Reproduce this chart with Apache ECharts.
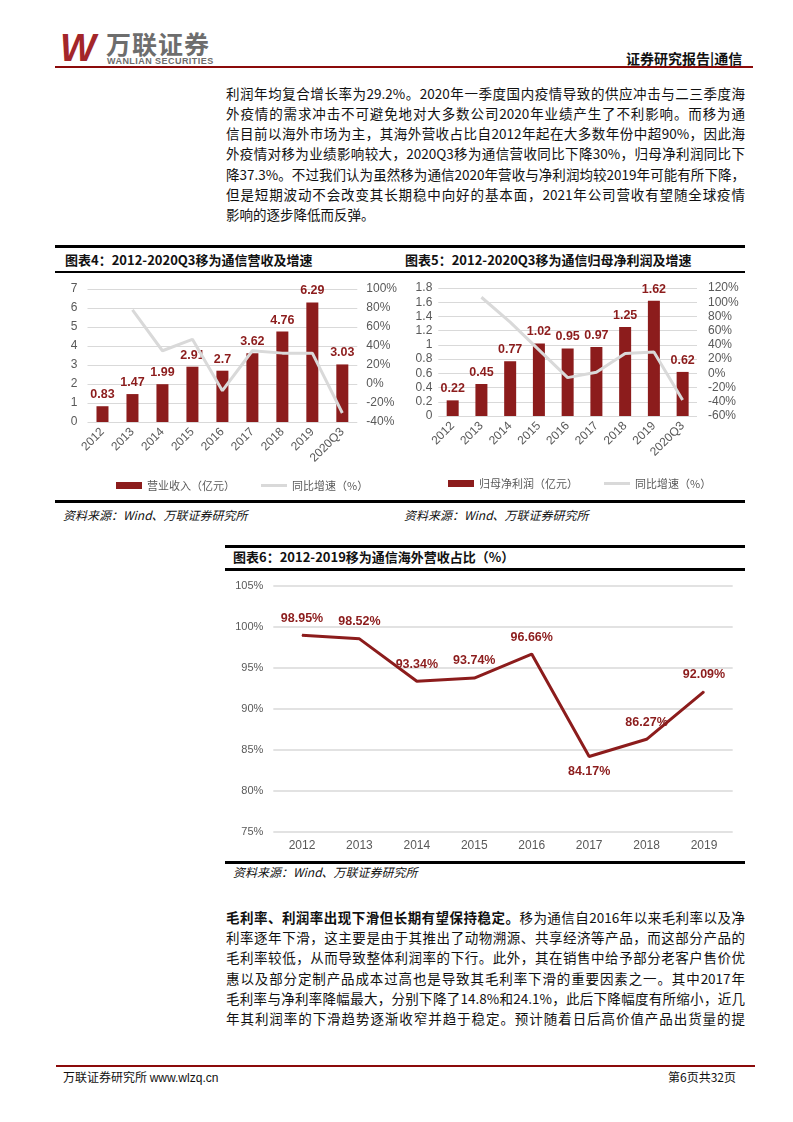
<!DOCTYPE html>
<html><head><meta charset="utf-8">
<script src="https://cdn.jsdelivr.net/npm/echarts@6/dist/echarts.min.js"></script>
<style>
body{margin:0;background:#fff;}
#page{position:relative;width:793px;height:1122px;overflow:hidden;font-family:"Noto Sans CJK SC",sans-serif;color:#111;}
.abs{position:absolute;white-space:nowrap;}
.ln{position:absolute;left:226px;width:519px;font-size:13.5px;line-height:20px;height:20px;text-align:justify;text-align-last:justify;}
.ln.last{text-align-last:left;}
.rule{position:absolute;background:#000;}
.red{background:#8b0a0a;}
.ttl{position:absolute;font-size:13px;font-weight:bold;line-height:16px;white-space:nowrap;color:#111;}
.src{position:absolute;font-size:12px;font-style:italic;line-height:14px;white-space:nowrap;color:#111;}
.chart{position:absolute;}
</style></head>
<body><div id="page">
<!-- header -->
<div class="abs" style="left:60px;top:28px;font-family:'Liberation Sans',sans-serif;font-size:38px;font-weight:bold;font-style:italic;color:#a3262a;line-height:40px;">W</div>
<div class="abs" style="left:106px;top:29px;font-size:25px;font-weight:bold;color:#6d6d6d;line-height:28px;letter-spacing:1px;">万联证券</div>
<div class="abs" style="left:107px;top:56px;font-family:'Liberation Sans',sans-serif;font-size:9px;font-weight:bold;color:#6d6d6d;line-height:10px;letter-spacing:0.45px;">WANLIAN SECURITIES</div>
<div class="abs" style="left:626px;top:49px;font-size:14px;font-weight:bold;line-height:18px;color:#111;">证券研究报告|通信</div>
<div class="rule red" style="left:55px;top:66px;width:698px;height:2px;"></div>

<!-- charts 4 & 5 frame -->
<div class="rule" style="left:55px;top:245px;width:690px;height:3px;"></div>
<div class="ttl" style="left:65px;top:252px;">图表4：2012-2020Q3移为通信营收及增速</div>
<div class="ttl" style="left:405px;top:252px;">图表5：2012-2020Q3移为通信归母净利润及增速</div>
<div class="rule" style="left:55px;top:270.5px;width:690px;height:2.5px;"></div>
<div id="c4" class="chart" style="left:55px;top:275px;width:345px;height:224px;"></div>
<div id="c5" class="chart" style="left:400px;top:275px;width:345px;height:224px;"></div>
<div class="rule" style="left:55px;top:499.5px;width:690px;height:3px;"></div>
<div class="src" style="left:63px;top:508px;">资料来源：Wind、万联证券研究所</div>
<div class="src" style="left:404px;top:508px;">资料来源：Wind、万联证券研究所</div>

<!-- chart 6 frame -->
<div class="rule" style="left:225px;top:544.5px;width:520px;height:3px;"></div>
<div class="ttl" style="left:233px;top:549px;">图表6：2012-2019移为通信海外营收占比（%）</div>
<div class="rule" style="left:225px;top:568px;width:520px;height:2.5px;"></div>
<div id="c6" class="chart" style="left:225px;top:572px;width:520px;height:289px;"></div>
<div class="rule" style="left:225px;top:860.5px;width:520px;height:3px;"></div>
<div class="src" style="left:233px;top:865px;">资料来源：Wind、万联证券研究所</div>

<!-- footer -->
<div class="rule red" style="left:56px;top:1065px;width:699px;height:2px;"></div>
<div class="abs" style="left:63px;top:1069px;font-size:12px;line-height:15px;color:#111;">万联证券研究所 <span style="font-family:'Liberation Sans',sans-serif;">www.wlzq.cn</span></div>
<div class="abs" style="left:668px;top:1069px;font-size:12px;line-height:15px;color:#111;">第6页共32页</div>
</div>

<script>
// ---------- text ----------
const para1 = [
  '利润年均复合增长率为29.2%。2020年一季度国内疫情导致的供应冲击与二三季度海',
  '外疫情的需求冲击不可避免地对大多数公司2020年业绩产生了不利影响。而移为通',
  '信目前以海外市场为主，其海外营收占比自2012年起在大多数年份中超90%，因此海',
  '外疫情对移为业绩影响较大，2020Q3移为通信营收同比下降30%，归母净利润同比下',
  '降37.3%。不过我们认为虽然移为通信2020年营收与净利润均较2019年可能有所下降，',
  '但是短期波动不会改变其长期稳中向好的基本面，2021年公司营收有望随全球疫情',
  '影响的逐步降低而反弹。'
];
const para2Bold = '毛利率、利润率出现下滑但长期有望保持稳定。';
const para2 = [
  '移为通信自2016年以来毛利率以及净',
  '利率逐年下滑，这主要是由于其推出了动物溯源、共享经济等产品，而这部分产品的',
  '毛利率较低，从而导致整体利润率的下行。此外，其在销售中给予部分老客户售价优',
  '惠以及部分定制产品成本过高也是导致其毛利率下滑的重要因素之一。其中2017年',
  '毛利率与净利率降幅最大，分别下降了14.8%和24.1%，此后下降幅度有所缩小，近几',
  '年其利润率的下滑趋势逐渐收窄并趋于稳定。预计随着日后高价值产品出货量的提'
];
function addLines(lines, top0, step, boldFirst, lastIsShort){
  const page = document.getElementById('page');
  lines.forEach((t,i)=>{
    const d = document.createElement('div');
    d.className = 'ln' + (lastIsShort && i===lines.length-1 ? ' last' : '');
    d.style.top = (top0 + step*i) + 'px';
    if(i===0 && boldFirst){
      const b=document.createElement('b'); b.textContent=boldFirst; d.appendChild(b);
      d.appendChild(document.createTextNode(t));
    } else d.textContent = t;
    page.appendChild(d);
  });
}
addLines(para1, 82.5, 20.25, null, true);
addLines(para2, 906.7, 20.3, para2Bold, false);

// ---------- data ----------
const cats4 = ['2012','2013','2014','2015','2016','2017','2018','2019','2020Q3'];
const revenue4 = [0.83,1.47,1.99,2.91,2.7,3.62,4.76,6.29,3.03];
const revenueGrowth4 = [null,78,35,47,-7,35,32.5,32.5,-30.5];
const leftTicks4 = {min:0,max:7,interval:1};
const rightTicks4 = {min:-40,max:100,interval:20};

const cats5 = ['2012','2013','2014','2015','2016','2017','2018','2019','2020Q3'];
const netProfit5 = [0.22,0.45,0.77,1.02,0.95,0.97,1.25,1.62,0.62];
const profitGrowth5 = [null,107,72,33,-6,1.5,28,30,-37.5];
const leftTicks5 = {min:0,max:1.8,interval:0.2};
const rightTicks5 = {min:-60,max:120,interval:20};

const cats6 = ['2012','2013','2014','2015','2016','2017','2018','2019'];
const overseas6 = [98.95,98.52,93.34,93.74,96.66,84.17,86.27,92.09];
const ticks6 = {min:75,max:105,interval:5};

// ---------- styles ----------
const RED = '#8c1c1c';
const GRAY = '#d9d9d9';
const AXT = '#595959';
const FONT = 'Liberation Sans';

function barLineOption(cats, bars, growth, lt, rt, g, barName, lineName, legendLeft, legendTop, lm, rm, lblFmt){
  return {
    animation:false,
    textStyle:{fontFamily:FONT},
    grid:g,
    legend:{left:legendLeft,top:legendTop,itemWidth:26,itemHeight:7,itemGap:26,
      textStyle:{fontSize:11,color:AXT,fontFamily:'Noto Sans CJK SC'},
      data:[{name:barName,icon:'path://M0,0h26v7h-26z'},{name:lineName,icon:'path://M0,0h26v3h-26z'}]},
    xAxis:{type:'category',data:cats,axisLine:{show:false},axisTick:{show:false},
      axisLabel:{rotate:45,fontSize:12,color:AXT,margin:8,interval:0}},
    yAxis:[
      {type:'value',min:lt.min,max:lt.max,interval:lt.interval,axisLine:{show:false},axisTick:{show:false},
        axisLabel:{fontSize:12,color:AXT,margin:lm,formatter:lblFmt},splitLine:{lineStyle:{color:GRAY,width:1}}},
      {type:'value',min:rt.min,max:rt.max,interval:rt.interval,axisLine:{show:false},axisTick:{show:false},
        axisLabel:{fontSize:12,color:AXT,margin:rm,formatter:'{value}%'},splitLine:{show:false}}
    ],
    series:[
      {name:barName,type:'bar',data:bars,barWidth:12,itemStyle:{color:RED},
        label:{show:true,position:'top',distance:5,color:RED,fontWeight:'bold',fontSize:12.5,fontFamily:FONT}},
      {name:lineName,type:'line',yAxisIndex:1,data:growth,symbol:'none',connectNulls:false,
        lineStyle:{color:GRAY,width:3},itemStyle:{color:GRAY}}
    ]
  };
}

const c4 = echarts.init(document.getElementById('c4'));
c4.setOption(barLineOption(cats4, revenue4, revenueGrowth4, leftTicks4, rightTicks4,
  {left:32.5,top:14,width:273.5,height:133}, '营业收入（亿元）','同比增速（%）', 56, 200, 10, 9,
  v=>String(v)));

const c5 = echarts.init(document.getElementById('c5'));
c5.setOption(barLineOption(cats5, netProfit5, profitGrowth5, leftTicks5, rightTicks5,
  {left:38.3,top:13,width:258.7,height:128}, '归母净利润（亿元）','同比增速（%）', 43, 198, 6, 11,
  v=>String(Math.round(v*10)/10)));

const c6 = echarts.init(document.getElementById('c6'));
c6.setOption({
  animation:false,
  textStyle:{fontFamily:FONT},
  grid:{left:48.3,top:13.7,width:459.4,height:246},
  xAxis:{type:'category',data:cats6,axisLine:{show:false},axisTick:{show:false},
    axisLabel:{fontSize:12,color:AXT,margin:8}},
  yAxis:{type:'value',min:ticks6.min,max:ticks6.max,interval:ticks6.interval,axisLine:{show:false},axisTick:{show:false},
    axisLabel:{fontSize:11,color:AXT,margin:10,formatter:'{value}%'},
    splitLine:{lineStyle:{color:GRAY,width:1.5}}},
  series:[{type:'line',symbol:'circle',symbolSize:1,showSymbol:true,showAllSymbol:true,
    lineStyle:{color:RED,width:3},itemStyle:{color:RED},
    data:overseas6.map((v,i)=> i===5 ? {value:v,label:{position:'bottom',distance:8}} : v),
    label:{show:true,position:'top',distance:10,color:RED,fontWeight:'bold',fontSize:12.5,fontFamily:FONT,
      formatter:p=>Number(p.value).toFixed(2)+'%'}}]
});
</script>
</body></html>
